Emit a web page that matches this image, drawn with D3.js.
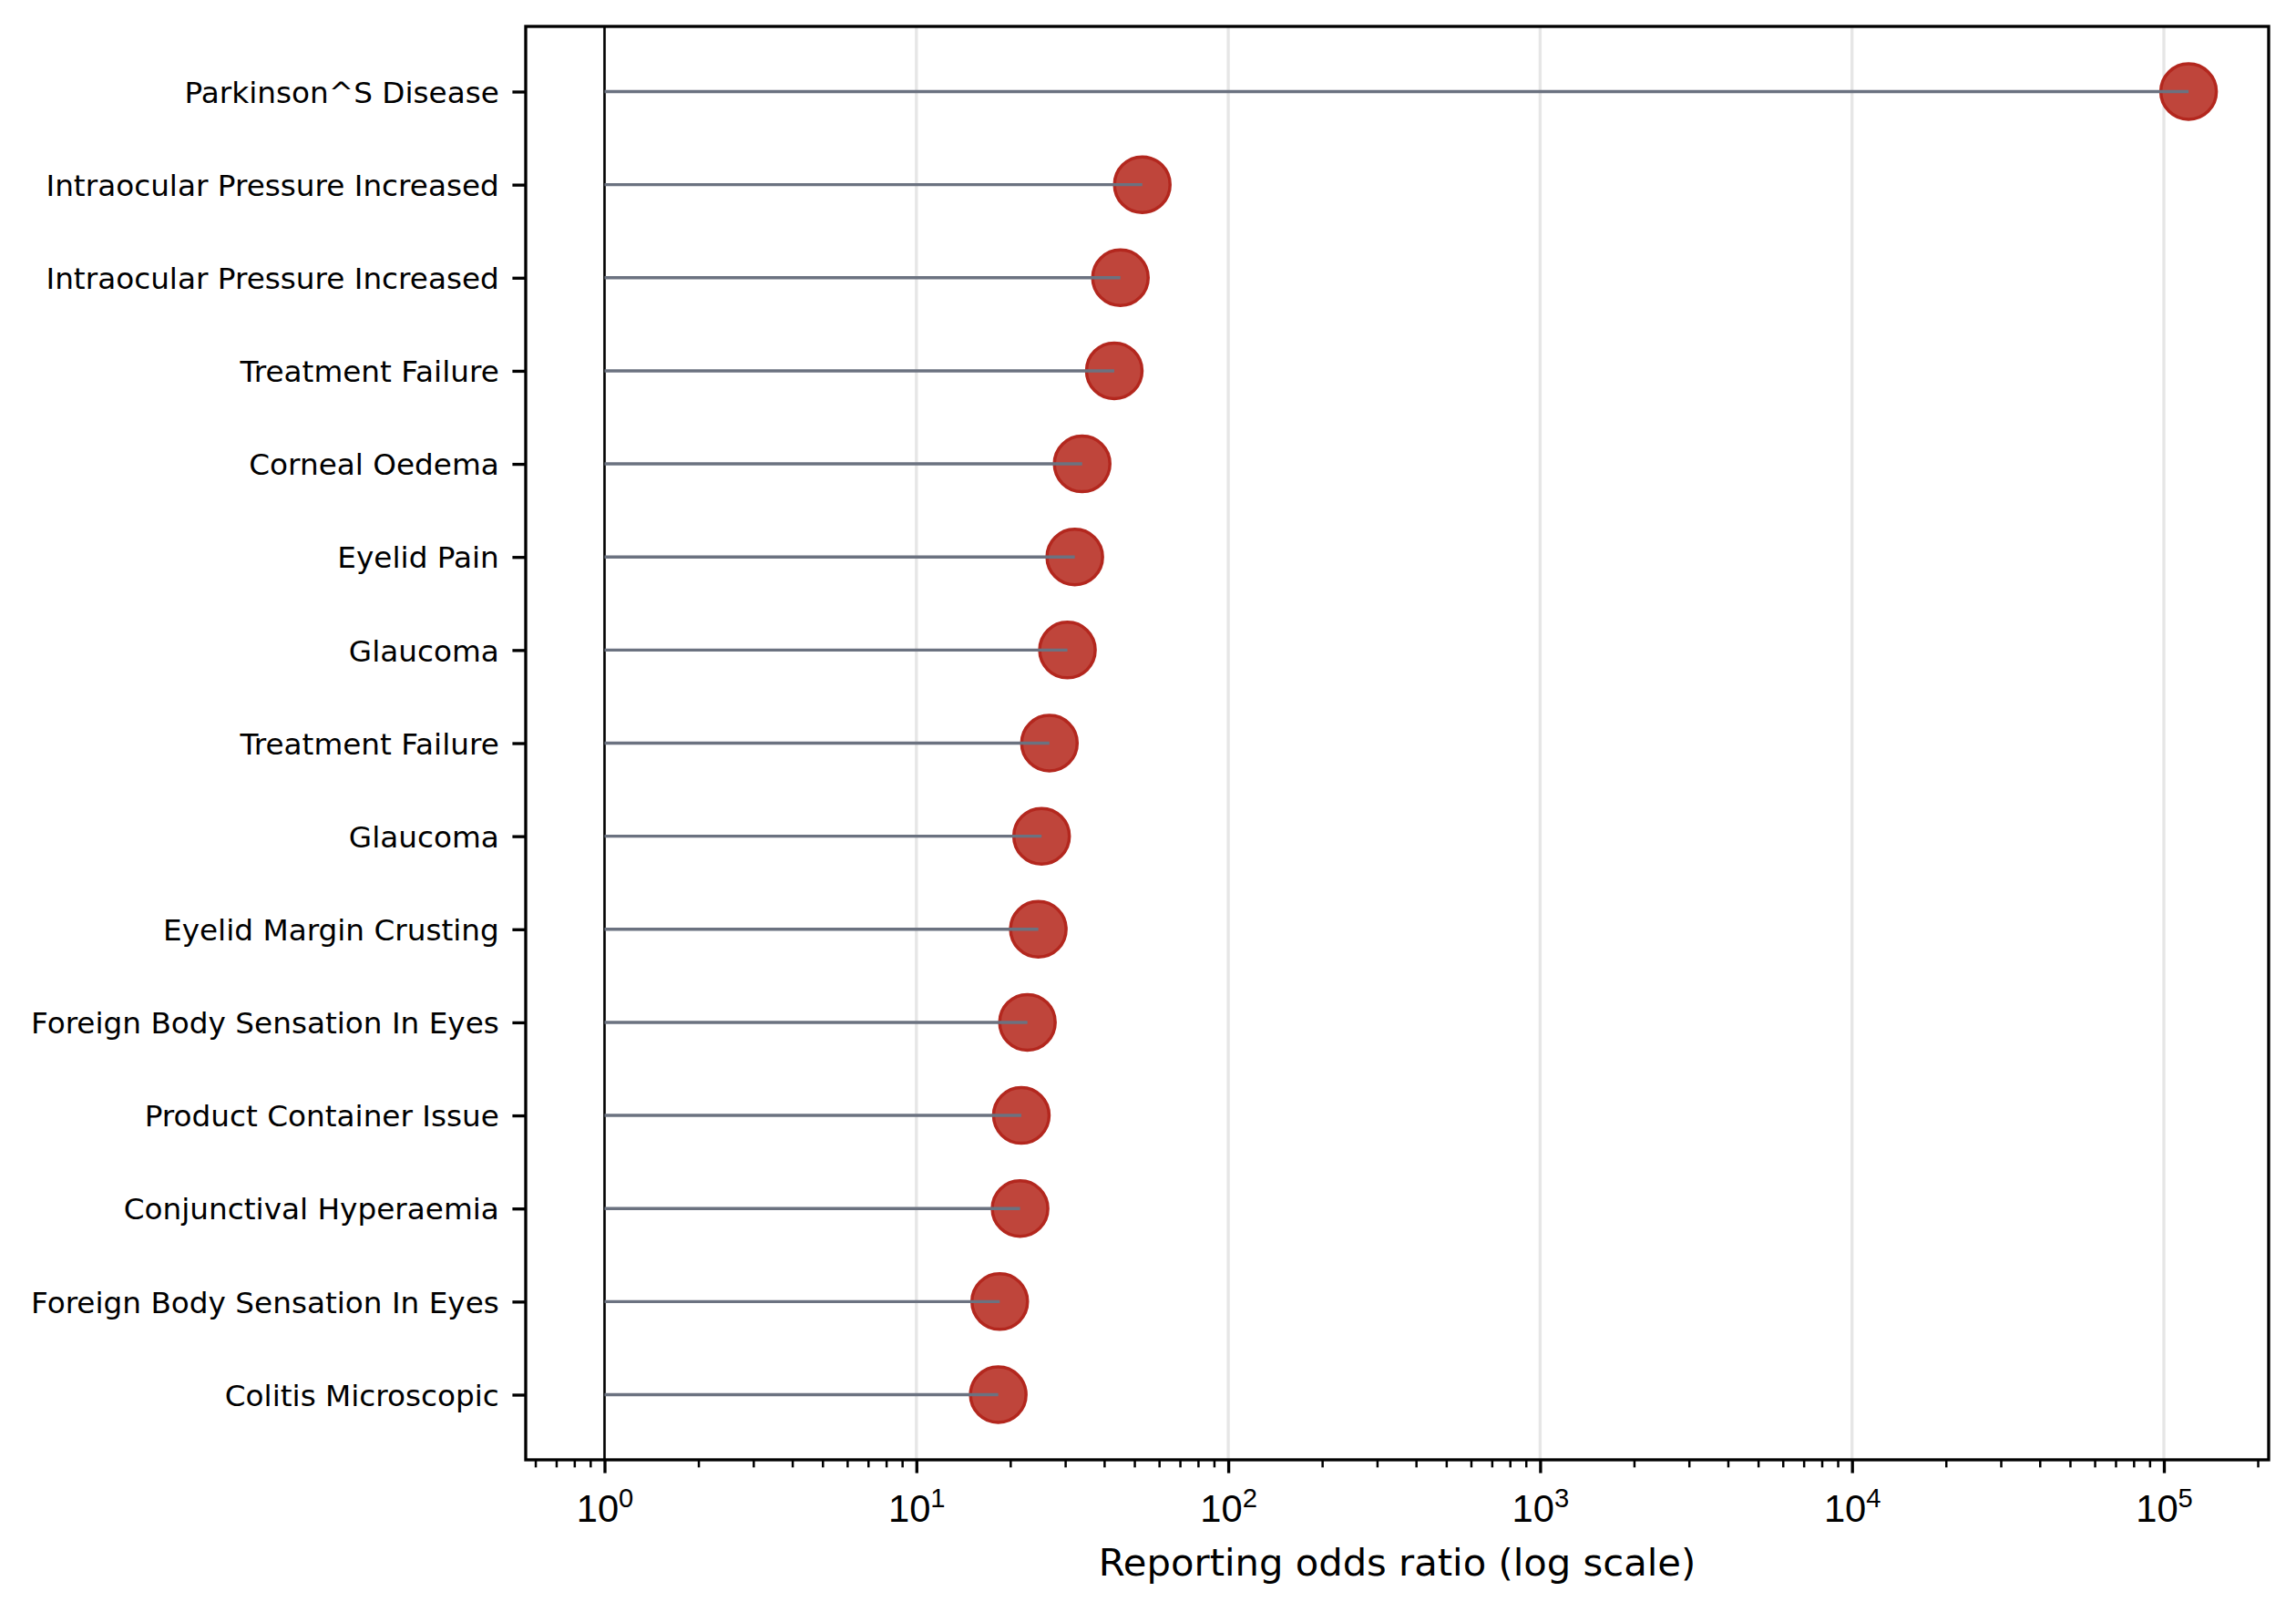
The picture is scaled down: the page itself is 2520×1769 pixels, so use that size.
<!DOCTYPE html>
<html>
<head>
<meta charset="utf-8">
<script src="https://cdn.jsdelivr.net/npm/d3@7"></script>
<style>
  html, body { margin: 0; padding: 0; background: #ffffff; }
  svg { display: block; font-family: "DejaVu Sans", sans-serif; }
</style>
</head>
<body>
<svg id="chart" width="2520" height="1769"></svg>
<script>
// ---- Data ----
const categories = [
  "Parkinson^S Disease",
  "Intraocular Pressure Increased",
  "Intraocular Pressure Increased",
  "Treatment Failure",
  "Corneal Oedema",
  "Eyelid Pain",
  "Glaucoma",
  "Treatment Failure",
  "Glaucoma",
  "Eyelid Margin Crusting",
  "Foreign Body Sensation In Eyes",
  "Product Container Issue",
  "Conjunctival Hyperaemia",
  "Foreign Body Sensation In Eyes",
  "Colitis Microscopic"
];
const rorValues = [120000, 53.0, 45.1, 43.1, 34.0, 32.2, 30.5, 26.7, 25.2, 24.6, 22.7, 21.7, 21.5, 18.5, 18.3];
const majorTicks = [1, 10, 100, 1000, 10000, 100000];
const majorTickExponents = ["0", "1", "2", "3", "4", "5"];
const minorMultipliers = [2, 3, 4, 5, 6, 7, 8, 9];
const xLabel = "Reporting odds ratio (log scale)";
const baseline = 1;

// ---- Layout ----
const W = 2520, H = 1769;
const plot = { left: 577, top: 29, right: 2490, bottom: 1602 };
const pt = 300 / 72; // px per point

const svg = d3.select("#chart");
svg.append("rect").attr("width", W).attr("height", H).attr("fill", "#ffffff");

const x = d3.scaleLog()
  .domain([Math.pow(10, -0.2527), Math.pow(10, 5.336)])
  .range([plot.left, plot.right]);
const y = d3.scaleLinear()
  .domain([-0.7, categories.length - 1 + 0.7])
  .range([plot.top, plot.bottom]);

// minor ticks
const [d0, d1] = x.domain();
const minorTicks = [];
for (let dec = 0.1; dec <= 1e6; dec *= 10) {
  minorMultipliers.forEach(m => {
    const v = +(m * dec).toPrecision(6);
    if (v >= d0 && v <= d1) minorTicks.push(v);
  });
}

// grid
svg.append("g")
  .selectAll("line")
  .data(majorTicks)
  .join("line")
  .attr("x1", d => x(d)).attr("x2", d => x(d))
  .attr("y1", plot.top).attr("y2", plot.bottom)
  .attr("stroke", "#e6e6e6")
  .attr("stroke-width", 0.8 * pt);

// reference line at 1
svg.append("line")
  .attr("x1", x(baseline)).attr("x2", x(baseline))
  .attr("y1", plot.top).attr("y2", plot.bottom)
  .attr("stroke", "#000000")
  .attr("stroke-width", 2.6);

// circles
svg.append("g")
  .selectAll("circle")
  .data(rorValues)
  .join("circle")
  .attr("cx", d => x(d))
  .attr("cy", (d, i) => y(i))
  .attr("r", 30.5)
  .attr("fill", "#bf453b")
  .attr("stroke", "#b3271e")
  .attr("stroke-width", 3.5);

// stems
svg.append("g")
  .selectAll("line")
  .data(rorValues)
  .join("line")
  .attr("x1", x(baseline))
  .attr("x2", d => x(d))
  .attr("y1", (d, i) => y(i))
  .attr("y2", (d, i) => y(i))
  .attr("stroke", "#6b7280")
  .attr("stroke-width", 3.4);

// spines
svg.append("rect")
  .attr("x", plot.left).attr("y", plot.top)
  .attr("width", plot.right - plot.left)
  .attr("height", plot.bottom - plot.top)
  .attr("fill", "none")
  .attr("stroke", "#000000")
  .attr("stroke-width", 0.8 * pt);

// x axis minor ticks
const xMinor = svg.append("g")
  .attr("transform", `translate(0,${plot.bottom})`)
  .call(d3.axisBottom(x).tickValues(minorTicks).tickSize(2 * pt).tickFormat(""));
xMinor.select(".domain").remove();
xMinor.selectAll(".tick line").attr("stroke", "#000").attr("stroke-width", 0.6 * pt);

// x axis major ticks
const xMajor = svg.append("g")
  .attr("transform", `translate(0,${plot.bottom})`)
  .call(d3.axisBottom(x).tickValues(majorTicks).tickSize(3.5 * pt).tickFormat(""));
xMajor.select(".domain").remove();
xMajor.selectAll(".tick line").attr("stroke", "#000").attr("stroke-width", 0.8 * pt);
xMajor.selectAll(".tick text").remove();
xMajor.selectAll(".tick").each(function(d, i) {
  const t = d3.select(this).append("text")
    .attr("x", 0)
    .attr("y", 1670 - plot.bottom)
    .attr("text-anchor", "middle")
    .attr("fill", "#000")
    .attr("font-size", 41.7);
  t.append("tspan").text("10");
  t.append("tspan").attr("font-size", 29.2).attr("dy", -16.5).text(majorTickExponents[i]);
});

// y axis
const yAxis = svg.append("g")
  .attr("transform", `translate(${plot.left},0)`)
  .call(d3.axisLeft(y)
    .tickValues(d3.range(categories.length))
    .tickFormat(i => categories[i])
    .tickSize(3.5 * pt)
    .tickPadding(3.5 * pt));
yAxis.select(".domain").remove();
yAxis.selectAll(".tick line").attr("stroke", "#000").attr("stroke-width", 0.8 * pt);
yAxis.selectAll(".tick text")
  .attr("font-size", 32.7)
  .attr("font-family", "DejaVu Sans")
  .attr("fill", "#000")
  .attr("dy", "0.36em");

// x label
svg.append("text")
  .attr("x", (plot.left + plot.right) / 2)
  .attr("y", 1729)
  .attr("text-anchor", "middle")
  .attr("font-size", 41.7)
  .attr("fill", "#000")
  .text(xLabel);
</script>
</body>
</html>
